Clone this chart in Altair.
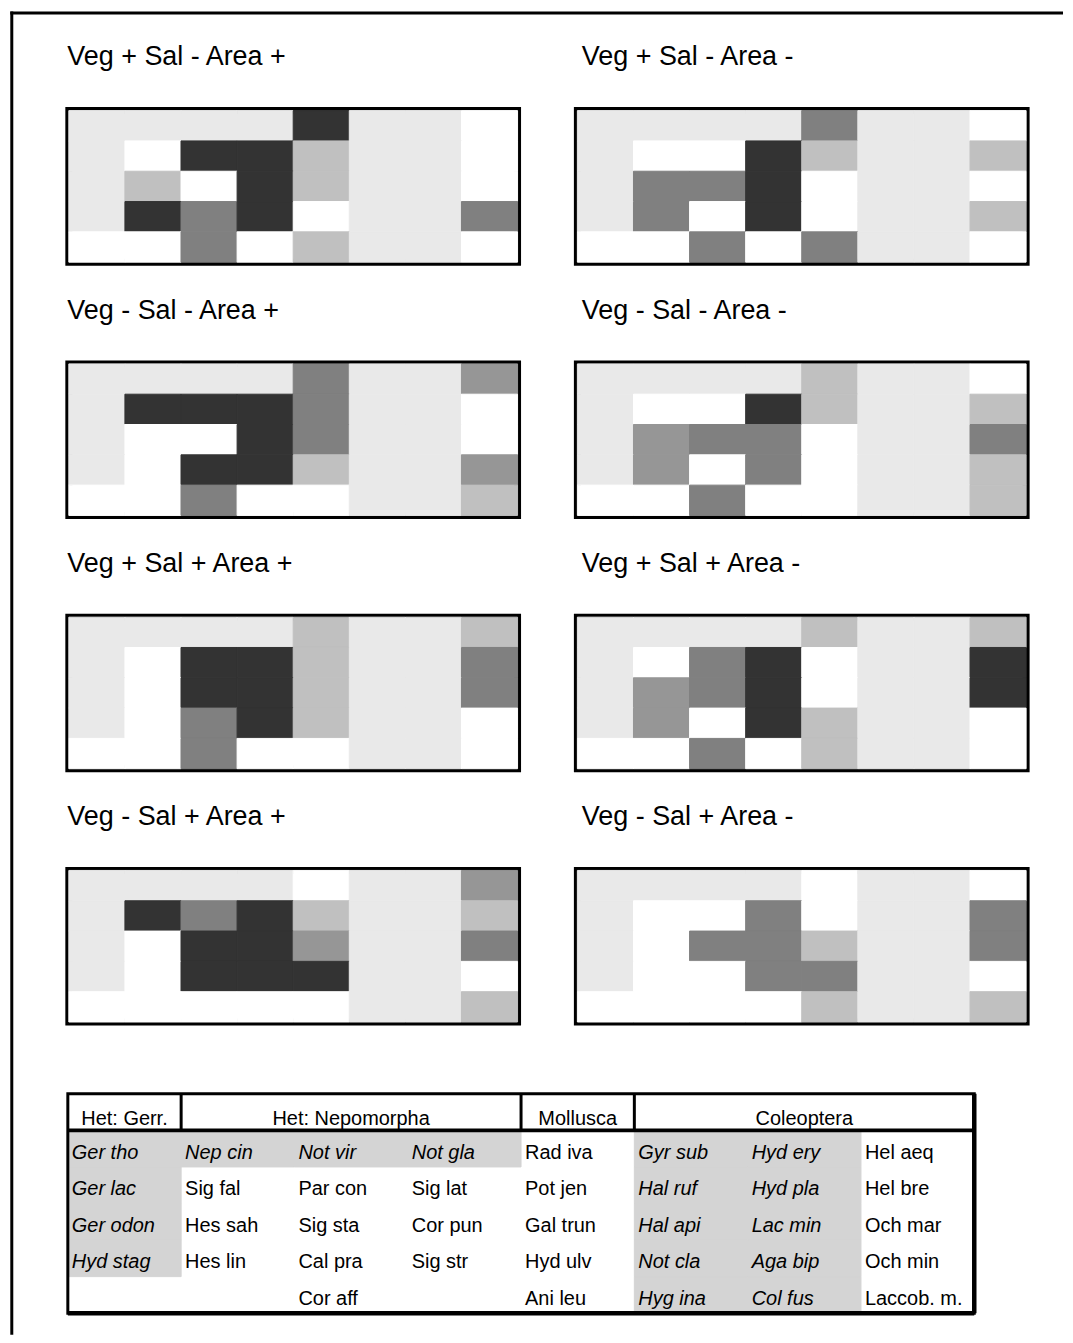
import altair as alt
import pandas as pd

# ---------------- data ----------------
titles = ["Veg + Sal - Area +", "Veg + Sal - Area -",
          "Veg - Sal - Area +", "Veg - Sal - Area -",
          "Veg + Sal + Area +", "Veg + Sal + Area -",
          "Veg - Sal + Area +", "Veg - Sal + Area -"]

# each panel: 5 rows x 8 taxa columns
# s = stippled (italic taxa), 0 white, 1 light grey, 2 mid grey, 3 grey, 4 dark
panel_1 = ["ssss4ss0", "s0441ss0", "s1041ss0", "s4340ss3", "00301ss0"]
panel_2 = ["ssss3ss0", "s0041ss1", "s3340ss0", "s3040ss1", "00303ss0"]
panel_3 = ["ssss3ss2", "s4443ss0", "s0043ss0", "s0441ss2", "00300ss1"]
panel_4 = ["ssss1ss0", "s0041ss1", "s2330ss3", "s2030ss1", "00300ss1"]
panel_5 = ["ssss1ss1", "s0441ss3", "s0441ss3", "s0341ss0", "00300ss0"]
panel_6 = ["ssss1ss1", "s0340ss4", "s2340ss4", "s2041ss0", "00301ss0"]
panel_7 = ["ssss0ss2", "s4341ss1", "s0442ss3", "s0444ss0", "00000ss1"]
panel_8 = ["ssss0ss0", "s0030ss3", "s0331ss3", "s0033ss0", "00001ss1"]
panels = [panel_1, panel_2, panel_3, panel_4, panel_5, panel_6, panel_7, panel_8]

levels = ["s", "0", "1", "2", "3", "4"]
level_colors = ["#e9e9e9", "#ffffff", "#c0c0c0", "#969696", "#808080", "#333333"]

taxa_col_0 = ["Ger tho", "Ger lac", "Ger odon", "Hyd stag", ""]
taxa_col_1 = ["Nep cin", "Sig fal", "Hes sah", "Hes lin", ""]
taxa_col_2 = ["Not vir", "Par con", "Sig sta", "Cal pra", "Cor aff"]
taxa_col_3 = ["Not gla", "Sig lat", "Cor pun", "Sig str", ""]
taxa_col_4 = ["Rad iva", "Pot jen", "Gal trun", "Hyd ulv", "Ani leu"]
taxa_col_5 = ["Gyr sub", "Hal ruf", "Hal api", "Not cla", "Hyg ina"]
taxa_col_6 = ["Hyd ery", "Hyd pla", "Lac min", "Aga bip", "Col fus"]
taxa_col_7 = ["Hel aeq", "Hel bre", "Och mar", "Och min", "Laccob. m."]
taxa_cols = [taxa_col_0, taxa_col_1, taxa_col_2, taxa_col_3,
             taxa_col_4, taxa_col_5, taxa_col_6, taxa_col_7]

groups = ["Het: Gerr.", "Het: Nepomorpha", "Mollusca", "Coleoptera"]
group_start = [0, 1, 4, 5]
group_end = [1, 4, 5, 8]

FONT = "Liberation Sans"
color_scale = alt.Scale(domain=levels, range=level_colors)

# ---------------- panels ----------------
def make_panel(i):
    rows = []
    for r, line in enumerate(panels[i]):
        for c, ch in enumerate(line):
            rows.append({"c": c, "c2": c + 1, "r": r, "r2": r + 1, "lvl": ch})
    df = pd.DataFrame(rows)
    return alt.Chart(df).mark_rect(strokeWidth=1).encode(
        x=alt.X("c:Q", scale=alt.Scale(domain=[0, 8], nice=False, zero=False), axis=None),
        x2="c2:Q",
        y=alt.Y("r:Q", scale=alt.Scale(domain=[0, 5], nice=False, reverse=True), axis=None),
        y2="r2:Q",
        fill=alt.Fill("lvl:N", scale=color_scale, legend=None),
        stroke=alt.Stroke("lvl:N", scale=color_scale, legend=None),
    ).properties(
        width=450, height=152,
        title=alt.TitleParams(titles[i], anchor="start", fontSize=27, font=FONT,
                              fontWeight="normal", color="black",
                              baseline="bottom", offset=12,
                              dx=(-1 if i % 2 == 0 else 5)),
        view=alt.ViewConfig(stroke="black", strokeWidth=7),
    )

panel_charts = [make_panel(i) for i in range(8)]

# ---------------- legend table ----------------
cells = []
for c, names in enumerate(taxa_cols):
    for r, name in enumerate(names):
        cells.append({"c": c, "c2": c + 1, "r": r + 1, "r2": r + 2, "ym": r + 1.5,
                      "name": name, "ital": panel_1[r][c] == "s"})
cells = pd.DataFrame(cells)

xs = alt.Scale(domain=[0, 8], range=[-1, 908], nice=False, zero=False)
ys = alt.Scale(domain=[0, 6], range=[-30, 190], nice=False, zero=False)

stip = alt.Chart(cells[cells["ital"]]).mark_rect(fill="#d4d4d4", stroke="#d4d4d4", strokeWidth=1).encode(
    x=alt.X("c:Q", scale=xs, axis=None), x2="c2:Q",
    y=alt.Y("r:Q", scale=ys, axis=None), y2="r2:Q")

txt_it = alt.Chart(cells[cells["ital"]]).mark_text(
    align="left", baseline="alphabetic", dx=4, dy=10, fontSize=20, font=FONT,
    fontStyle="italic", color="black").encode(
    x=alt.X("c:Q", scale=xs, axis=None), y=alt.Y("ym:Q", scale=ys, axis=None), text="name:N")

txt_up = alt.Chart(cells[~cells["ital"]]).mark_text(
    align="left", baseline="alphabetic", dx=4, dy=10, fontSize=20, font=FONT,
    color="black").encode(
    x=alt.X("c:Q", scale=xs, axis=None), y=alt.Y("ym:Q", scale=ys, axis=None), text="name:N")

hdr = pd.DataFrame({"g": groups, "s": group_start, "e": group_end,
                    "m": [(a + b) / 2 for a, b in zip(group_start, group_end)],
                    "y0": 0, "y1": 1, "yc": 0.5})

hdr_txt = alt.Chart(hdr).mark_text(align="center", baseline="alphabetic", dy=13,
                                   fontSize=20, font=FONT, color="black").encode(
    x=alt.X("m:Q", scale=xs, axis=None), y=alt.Y("yc:Q", scale=ys, axis=None), text="g:N")

hdr_sep = alt.Chart(hdr[hdr["s"] > 0]).mark_rule(strokeWidth=3, color="black").encode(
    x=alt.X("s:Q", scale=xs, axis=None),
    y=alt.Y("y0:Q", scale=ys, axis=None), y2="y1:Q")

box = pd.DataFrame({"x0": [0], "x1": [8], "y0": [0], "y1": [6], "yh": [1]})

hdr_line = alt.Chart(box).mark_rule(strokeWidth=4, color="black").encode(
    x=alt.X("x0:Q", scale=xs, axis=None), x2="x1:Q",
    y=alt.Y("yh:Q", scale=ys, axis=None))

border = alt.Chart(box).mark_rect(filled=False, stroke="black", strokeWidth=3).encode(
    x=alt.X("x0:Q", scale=xs, axis=None), x2="x1:Q",
    y=alt.Y("y0:Q", scale=ys, axis=None), y2="y1:Q")

shadow_r = alt.Chart(box).mark_rule(strokeWidth=4.5, color="black").encode(
    x=alt.X("x1:Q", scale=xs, axis=None),
    y=alt.Y("y0:Q", scale=ys, axis=None), y2="y1:Q")
shadow_b = alt.Chart(box).mark_rule(strokeWidth=4.5, color="black").encode(
    x=alt.X("x0:Q", scale=xs, axis=None), x2="x1:Q",
    y=alt.Y("y1:Q", scale=ys, axis=None))

one = pd.DataFrame({"k": [0]})
frame_left = alt.Chart(one).mark_rule(strokeWidth=3, color="black").encode(
    x=alt.value(-57.2), y=alt.value(-1115.3), y2=alt.value(211.7))
frame_top = alt.Chart(one).mark_rule(strokeWidth=3, color="black").encode(
    y=alt.value(-1113.8), x=alt.value(-58.7), x2=alt.value(997))

table = alt.layer(stip, txt_it, txt_up, hdr_sep, hdr_line, hdr_txt, border,
                  shadow_r, shadow_b, frame_left, frame_top).properties(
    width=450, height=160,
    view=alt.ViewConfig(stroke=None, strokeWidth=0),
)

chart = alt.concat(*panel_charts, table, columns=2,
                   spacing={"row": 102, "column": 60}, bounds="flush").properties(
    padding={"left": 0, "top": 0, "right": 0, "bottom": 0}
).configure(background="white")

chart.save("out.html", embed_options={"renderer": "svg", "actions": False})
